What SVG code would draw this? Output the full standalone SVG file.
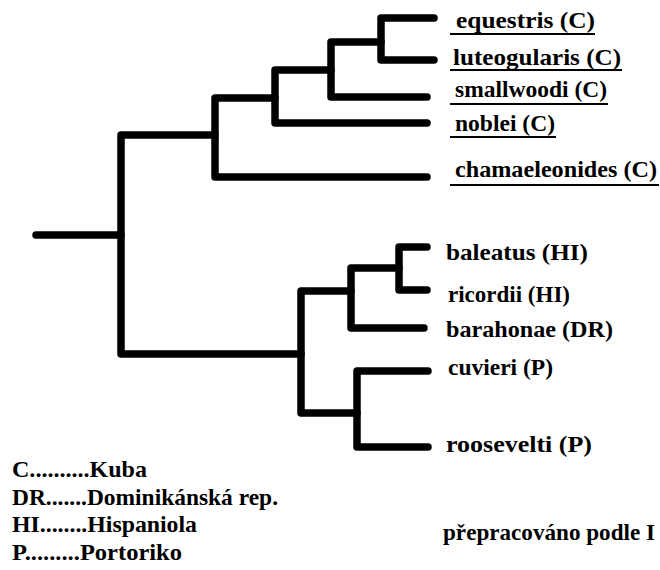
<svg xmlns="http://www.w3.org/2000/svg" width="660" height="570" viewBox="0 0 660 570">
<style>
.br{fill:none;stroke:#000;stroke-width:7.5;stroke-linecap:round;stroke-linejoin:round}
.ul{stroke:#000;stroke-width:2}
text{font-family:"Liberation Serif","Times New Roman",serif;font-weight:bold;font-size:24px;fill:#000}
</style>
<rect width="660" height="570" fill="#fff"/>
<g id="connectors">
<path class="br" d="M36 235 H121"/>
<path class="br" d="M215 135 H121 V354 H301"/>
<path class="br" d="M275 98 H215 V177 H427"/>
<path class="br" d="M331 70 H275 V123 H427"/>
<path class="br" d="M381 42 H331 V97 H427"/>
<path class="br" d="M434 18 H381 V60 H434"/>
<path class="br" d="M351 291 H301 V413 H357"/>
<path class="br" d="M399 268 H351 V328 H424"/>
<path class="br" d="M427 247 H399 V290 H427"/>
<path class="br" d="M428 371 H357 V447 H428"/>
</g>
<g id="equestris"><text x="456" y="28" textLength="139" lengthAdjust="spacingAndGlyphs">equestris  (C)</text><line class="ul" x1="450" y1="34" x2="595" y2="34"/></g>
<g id="luteogularis"><text x="453" y="65" textLength="168" lengthAdjust="spacingAndGlyphs">luteogularis (C)</text><line class="ul" x1="450" y1="70" x2="622" y2="70"/></g>
<g id="smallwoodi"><text x="455" y="97" textLength="152" lengthAdjust="spacingAndGlyphs">smallwoodi (C)</text><line class="ul" x1="450" y1="104" x2="608" y2="104"/></g>
<g id="noblei"><text x="455" y="131" textLength="100" lengthAdjust="spacingAndGlyphs">noblei (C)</text><line class="ul" x1="450" y1="137" x2="556" y2="137"/></g>
<g id="chamaeleonides"><text x="455" y="177" textLength="202" lengthAdjust="spacingAndGlyphs">chamaeleonides (C)</text><line class="ul" x1="450" y1="185" x2="659" y2="185"/></g>
<g id="baleatus"><text x="446" y="260" textLength="142" lengthAdjust="spacingAndGlyphs">baleatus  (HI)</text></g>
<g id="ricordii"><text x="448" y="302" textLength="122" lengthAdjust="spacingAndGlyphs">ricordii (HI)</text></g>
<g id="barahonae"><text x="446" y="337" textLength="167" lengthAdjust="spacingAndGlyphs">barahonae (DR)</text></g>
<g id="cuvieri"><text x="448" y="375" textLength="105" lengthAdjust="spacingAndGlyphs">cuvieri (P)</text></g>
<g id="roosevelti"><text x="446" y="452" textLength="146" lengthAdjust="spacingAndGlyphs">roosevelti  (P)</text></g>
<g id="legend">
<text x="12" y="477" textLength="135" lengthAdjust="spacingAndGlyphs">C..........Kuba</text>
<text x="12" y="505" textLength="266" lengthAdjust="spacingAndGlyphs">DR.......Dominikánská rep.</text>
<text x="12" y="532" textLength="185" lengthAdjust="spacingAndGlyphs">HI........Hispaniola</text>
<text x="12" y="560" textLength="170" lengthAdjust="spacingAndGlyphs">P.........Portoriko</text>
</g>
<g id="source"><text x="443" y="540" style="font-size:22.5px" textLength="212" lengthAdjust="spacingAndGlyphs">přepracováno podle I</text></g>
</svg>
